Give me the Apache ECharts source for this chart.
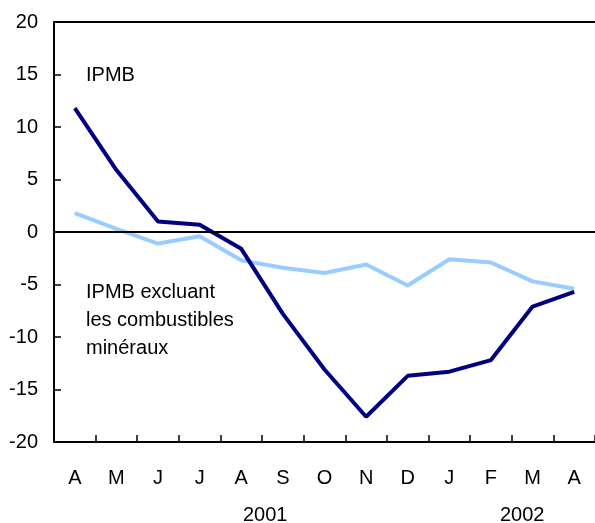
<!DOCTYPE html>
<html>
<head>
<meta charset="utf-8">
<script src="https://cdn.jsdelivr.net/npm/echarts@6/dist/echarts.min.js"></script>
<style>
html,body{margin:0;padding:0;background:#fff;}
#chart{width:595px;height:523px;}
</style>
</head>
<body>
<div id="chart"></div>
<script>
// mois, avril 2001 a avril 2002
var months = ['A','M','J','J','A','S','O','N','D','J','F','M','A'];
var ipmb = [11.8, 5.9, 1.0, 0.7, -1.6, -7.8, -13.1, -17.6, -13.7, -13.3, -12.2, -7.1, -5.7];
var ipmbSansComb = [1.8, 0.3, -1.1, -0.4, -2.7, -3.4, -3.9, -3.1, -5.1, -2.6, -2.9, -4.7, -5.4];
var years = ['2001', '2002'];

var font = 'Liberation Sans, Arial, sans-serif';
var fs = 20;
var myChart = echarts.init(document.getElementById('chart'));

var option = {
	animation: false,
	grid: {
		left: 54,
		top: 22,
		width: 545,
		height: 420
	},
	xAxis: [{
		type: 'category',
		data: months,
		boundaryGap: true,
		axisLine: {show: true, onZero: false, lineStyle: {color: '#000', width: 2}},
		axisTick: {show: true, inside: true, length: 7, interval: 0, lineStyle: {color: '#000', width: 1.5}},
		axisLabel: {color: '#000', fontSize: fs, fontFamily: font, margin: 26, interval: 0}
	}, {
		type: 'category',
		position: 'top',
		data: months,
		axisLine: {show: true, onZero: false, lineStyle: {color: '#000', width: 2}},
		axisTick: {show: false},
		axisLabel: {show: false}
	}],
	yAxis: {
		type: 'value',
		min: -20,
		max: 20,
		interval: 5,
		axisLine: {show: true, lineStyle: {color: '#000', width: 2}},
		axisTick: {show: true, inside: true, length: 7, lineStyle: {color: '#000', width: 1.5}},
		axisLabel: {color: '#000', fontSize: fs, fontFamily: font, margin: 16},
		splitLine: {show: false}
	},
	series: [{
		name: 'IPMB excluant les combustibles minéraux',
		type: 'line',
		data: ipmbSansComb,
		symbol: 'none',
		lineStyle: {color: '#99CCFF', width: 4},
		markLine: {
			silent: true,
			symbol: 'none',
			label: {show: false},
			lineStyle: {color: '#000', width: 2, type: 'solid'},
			data: [{yAxis: 0}]
		},
		z: 2
	}, {
		name: 'IPMB',
		type: 'line',
		data: ipmb,
		symbol: 'none',
		lineStyle: {color: '#000080', width: 4},
		z: 3
	}],
	graphic: [
		{type: 'text', left: 86, top: 65, style: {text: 'IPMB', fontSize: fs, fontFamily: font, fill: '#000'}},
		{type: 'text', left: 86, top: 278, style: {text: 'IPMB excluant\nles combustibles\nminéraux', fontSize: fs, lineHeight: 28, fontFamily: font, fill: '#000'}},
		{type: 'text', left: 243, top: 505, style: {text: years[0], fontSize: fs, fontFamily: font, fill: '#000'}},
		{type: 'text', left: 500, top: 505, style: {text: years[1], fontSize: fs, fontFamily: font, fill: '#000'}}
	]
};

myChart.setOption(option);
</script>
</body>
</html>
